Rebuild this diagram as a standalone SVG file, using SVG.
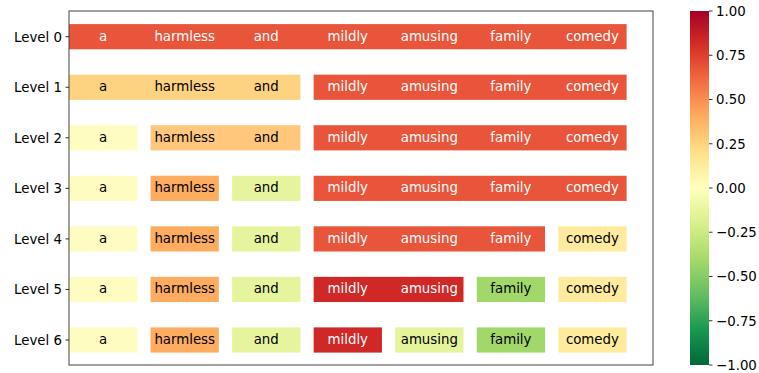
<svg xmlns="http://www.w3.org/2000/svg" width="759" height="373" viewBox="0 0 759 373">
<style>
text{font-family:"DejaVu Sans","Liberation Sans",sans-serif;font-size:13.33px}
.w{fill:#ffffff;text-anchor:middle}
.b{fill:#000000;text-anchor:middle}
.lab{fill:#000;text-anchor:end}
.cl{fill:#000;text-anchor:start}
.tick{stroke:#000;stroke-width:0.8}
.cell{stroke-width:0.8;stroke-opacity:0.5}
</style>
<defs>
<linearGradient id="cmap" x1="0" y1="0" x2="0" y2="1">
<stop offset="0" stop-color="#a50026"/>
<stop offset="0.1" stop-color="#d73027"/>
<stop offset="0.2" stop-color="#f46d43"/>
<stop offset="0.3" stop-color="#fdae61"/>
<stop offset="0.4" stop-color="#fee08b"/>
<stop offset="0.5" stop-color="#ffffbf"/>
<stop offset="0.6" stop-color="#d9ef8b"/>
<stop offset="0.7" stop-color="#a6d96a"/>
<stop offset="0.8" stop-color="#66bd63"/>
<stop offset="0.9" stop-color="#1a9850"/>
<stop offset="1" stop-color="#006837"/>
</linearGradient>
</defs>
<rect width="759" height="373" fill="#ffffff"/>

<!-- Level 0 -->
<g id="level0">
<rect x="69" y="24.1" width="557.6" height="25.2" fill="#e9553a"/>
<text class="w" x="103.2" y="40.7">a</text>
<text class="w" x="184.7" y="40.7">harmless</text>
<text class="w" x="266.2" y="40.7">and</text>
<text class="w" x="347.8" y="40.7">mildly</text>
<text class="w" x="429.3" y="40.7">amusing</text>
<text class="w" x="510.9" y="40.7">family</text>
<text class="w" x="592.4" y="40.7">comedy</text>
</g>

<!-- Level 1 -->
<g id="level1">
<rect x="69" y="74.65" width="231.4" height="25.2" fill="#fdd381"/>
<rect x="313.65" y="74.65" width="312.95" height="25.2" fill="#e9553a"/>
<text class="b" x="103.2" y="91.25">a</text>
<text class="b" x="184.7" y="91.25">harmless</text>
<text class="b" x="266.2" y="91.25">and</text>
<text class="w" x="347.8" y="91.25">mildly</text>
<text class="w" x="429.3" y="91.25">amusing</text>
<text class="w" x="510.9" y="91.25">family</text>
<text class="w" x="592.4" y="91.25">comedy</text>
</g>

<!-- Level 2 -->
<g id="level2">
<rect x="69" y="125.2" width="68.3" height="25.2" fill="#fefcc0"/>
<rect x="150.55" y="125.2" width="149.85" height="25.2" fill="#fec77b"/>
<rect x="313.65" y="125.2" width="312.95" height="25.2" fill="#e9553a"/>
<text class="b" x="103.2" y="141.8">a</text>
<text class="b" x="184.7" y="141.8">harmless</text>
<text class="b" x="266.2" y="141.8">and</text>
<text class="w" x="347.8" y="141.8">mildly</text>
<text class="w" x="429.3" y="141.8">amusing</text>
<text class="w" x="510.9" y="141.8">family</text>
<text class="w" x="592.4" y="141.8">comedy</text>
</g>

<!-- Level 3 -->
<g id="level3">
<rect x="69" y="175.75" width="68.3" height="25.2" fill="#fefcc0"/>
<rect x="150.55" y="175.75" width="68.3" height="25.2" fill="#fdac60"/>
<rect x="232.1" y="175.75" width="68.3" height="25.2" fill="#e6f59d"/>
<rect x="313.65" y="175.75" width="312.95" height="25.2" fill="#e9553a"/>
<text class="b" x="103.2" y="192.35">a</text>
<text class="b" x="184.7" y="192.35">harmless</text>
<text class="b" x="266.2" y="192.35">and</text>
<text class="w" x="347.8" y="192.35">mildly</text>
<text class="w" x="429.3" y="192.35">amusing</text>
<text class="w" x="510.9" y="192.35">family</text>
<text class="w" x="592.4" y="192.35">comedy</text>
</g>

<!-- Level 4 -->
<g id="level4">
<rect x="69" y="226.3" width="68.3" height="25.2" fill="#fefcc0"/>
<rect x="150.55" y="226.3" width="68.3" height="25.2" fill="#fdac60"/>
<rect x="232.1" y="226.3" width="68.3" height="25.2" fill="#e6f59d"/>
<rect x="313.65" y="226.3" width="231.4" height="25.2" fill="#e9553a"/>
<rect x="558.3" y="226.3" width="68.3" height="25.2" fill="#feeb9d"/>
<text class="b" x="103.2" y="242.9">a</text>
<text class="b" x="184.7" y="242.9">harmless</text>
<text class="b" x="266.2" y="242.9">and</text>
<text class="w" x="347.8" y="242.9">mildly</text>
<text class="w" x="429.3" y="242.9">amusing</text>
<text class="w" x="510.9" y="242.9">family</text>
<text class="b" x="592.4" y="242.9">comedy</text>
</g>

<!-- Level 5 -->
<g id="level5">
<rect x="69" y="276.85" width="68.3" height="25.2" fill="#fefcc0"/>
<rect x="150.55" y="276.85" width="68.3" height="25.2" fill="#fdac60"/>
<rect x="232.1" y="276.85" width="68.3" height="25.2" fill="#e6f59d"/>
<rect x="313.65" y="276.85" width="149.85" height="25.2" fill="#cf2827"/>
<rect x="476.75" y="276.85" width="68.3" height="25.2" fill="#a2d76a"/>
<rect x="558.3" y="276.85" width="68.3" height="25.2" fill="#feeb9d"/>
<text class="b" x="103.2" y="293.45">a</text>
<text class="b" x="184.7" y="293.45">harmless</text>
<text class="b" x="266.2" y="293.45">and</text>
<text class="w" x="347.8" y="293.45">mildly</text>
<text class="w" x="429.3" y="293.45">amusing</text>
<text class="b" x="510.9" y="293.45">family</text>
<text class="b" x="592.4" y="293.45">comedy</text>
</g>

<!-- Level 6 -->
<g id="level6">
<rect x="69" y="327.4" width="68.3" height="25.2" fill="#fefcc0"/>
<rect x="150.55" y="327.4" width="68.3" height="25.2" fill="#fdac60"/>
<rect x="232.1" y="327.4" width="68.3" height="25.2" fill="#e6f59d"/>
<rect x="313.65" y="327.4" width="68.3" height="25.2" fill="#cf2827"/>
<rect x="395.2" y="327.4" width="68.3" height="25.2" fill="#e4f49b"/>
<rect x="476.75" y="327.4" width="68.3" height="25.2" fill="#a2d76a"/>
<rect x="558.3" y="327.4" width="68.3" height="25.2" fill="#feeb9d"/>
<text class="b" x="103.2" y="344">a</text>
<text class="b" x="184.7" y="344">harmless</text>
<text class="b" x="266.2" y="344">and</text>
<text class="w" x="347.8" y="344">mildly</text>
<text class="b" x="429.3" y="344">amusing</text>
<text class="b" x="510.9" y="344">family</text>
<text class="b" x="592.4" y="344">comedy</text>
</g>

<!-- axes -->
<g id="axes">
<rect x="69" y="11" width="584" height="354" fill="none" stroke="#444" stroke-width="1"/>
<line class="tick" x1="65.5" y1="36.7" x2="69" y2="36.7"/>
<line class="tick" x1="65.5" y1="87.25" x2="69" y2="87.25"/>
<line class="tick" x1="65.5" y1="137.8" x2="69" y2="137.8"/>
<line class="tick" x1="65.5" y1="188.35" x2="69" y2="188.35"/>
<line class="tick" x1="65.5" y1="238.9" x2="69" y2="238.9"/>
<line class="tick" x1="65.5" y1="289.45" x2="69" y2="289.45"/>
<line class="tick" x1="65.5" y1="340" x2="69" y2="340"/>
<text class="lab" x="62" y="41.5">Level 0</text>
<text class="lab" x="62" y="92.05">Level 1</text>
<text class="lab" x="62" y="142.6">Level 2</text>
<text class="lab" x="62" y="193.15">Level 3</text>
<text class="lab" x="62" y="243.7">Level 4</text>
<text class="lab" x="62" y="294.25">Level 5</text>
<text class="lab" x="62" y="344.8">Level 6</text>
</g>

<!-- colorbar -->
<g id="colorbar">
<rect x="690" y="11" width="19" height="354" fill="url(#cmap)"/>
<line class="tick" x1="709" y1="11" x2="712.5" y2="11"/>
<line class="tick" x1="709" y1="55.25" x2="712.5" y2="55.25"/>
<line class="tick" x1="709" y1="99.5" x2="712.5" y2="99.5"/>
<line class="tick" x1="709" y1="143.75" x2="712.5" y2="143.75"/>
<line class="tick" x1="709" y1="188" x2="712.5" y2="188"/>
<line class="tick" x1="709" y1="232.25" x2="712.5" y2="232.25"/>
<line class="tick" x1="709" y1="276.5" x2="712.5" y2="276.5"/>
<line class="tick" x1="709" y1="320.75" x2="712.5" y2="320.75"/>
<line class="tick" x1="709" y1="365" x2="712.5" y2="365"/>
<text class="cl" x="716" y="15.8">1.00</text>
<text class="cl" x="716" y="60.05">0.75</text>
<text class="cl" x="716" y="104.3">0.50</text>
<text class="cl" x="716" y="148.55">0.25</text>
<text class="cl" x="716" y="192.8">0.00</text>
<text class="cl" x="716" y="237.05">−0.25</text>
<text class="cl" x="716" y="281.3">−0.50</text>
<text class="cl" x="716" y="325.55">−0.75</text>
<text class="cl" x="716" y="369.8">−1.00</text>
</g>
</svg>
